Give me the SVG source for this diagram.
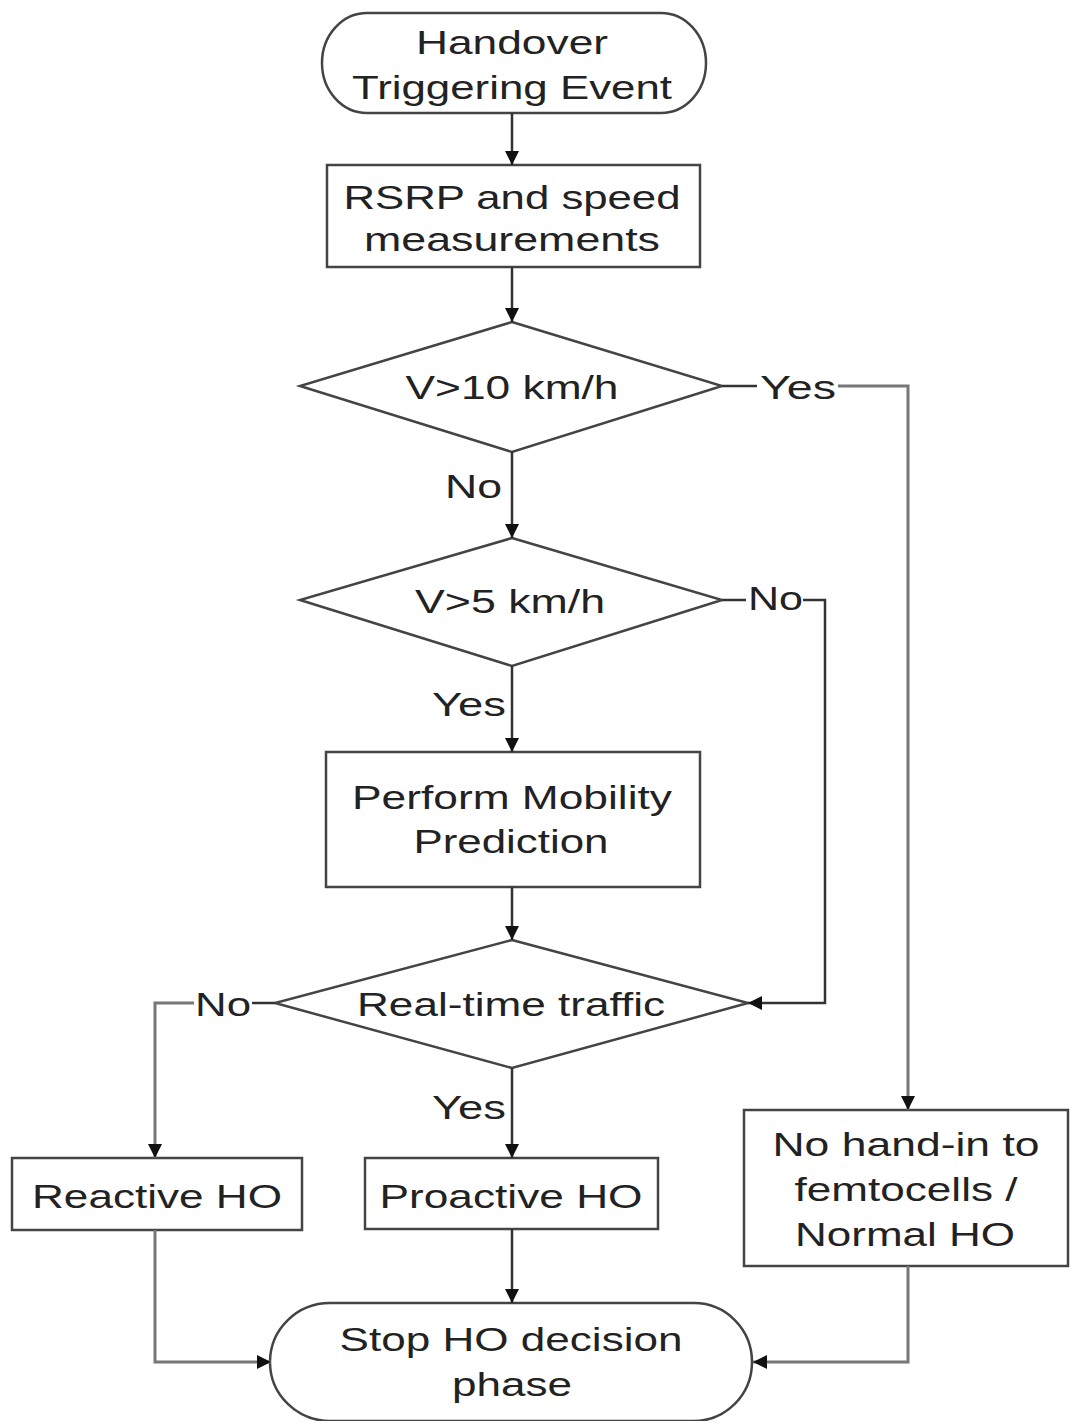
<svg xmlns="http://www.w3.org/2000/svg" width="1070" height="1421" viewBox="0 0 1070 1421">
  <style>
    .shape { fill: #ffffff; stroke: #444444; stroke-width: 2.5; }
    .edge { fill: none; stroke: #333333; stroke-width: 2.5; }
    .edge-light { fill: none; stroke: #777777; stroke-width: 3; }
    .label { font-family: "Liberation Sans", Arial, sans-serif; font-size: 34px; fill: #222222; text-anchor: middle; }
    .elabel { font-family: "Liberation Sans", Arial, sans-serif; font-size: 34px; fill: #222222; }
  </style>
  <defs>
    <marker id="arrowBig" viewBox="0 0 10 10" refX="10" refY="5" markerWidth="14" markerHeight="14" markerUnits="userSpaceOnUse" orient="auto">
      <path d="M0,0 L10,5 L0,10 z" fill="#111111"/>
    </marker>
  </defs>

  <rect width="1070" height="1421" fill="#ffffff"/>

  <g id="start">
    <path class="shape" d="M367,13 L661,13 A45,50 0 0 1 661,113 L367,113 A45,50 0 0 1 367,13 Z"/>
    <text class="label" x="512" y="54" textLength="192" lengthAdjust="spacingAndGlyphs">Handover</text>
    <text class="label" x="512" y="99" textLength="320" lengthAdjust="spacingAndGlyphs">Triggering Event</text>
  </g>

  <g id="measure">
    <rect class="shape" x="327" y="165" width="373" height="102"/>
    <text class="label" x="512" y="209" textLength="337" lengthAdjust="spacingAndGlyphs">RSRP and speed</text>
    <text class="label" x="512" y="251" textLength="296" lengthAdjust="spacingAndGlyphs">measurements</text>
  </g>

  <g id="speed10">
    <polygon class="shape" points="512,322 722,386 512,452 300,386"/>
    <text class="label" x="512" y="399" textLength="213" lengthAdjust="spacingAndGlyphs">V&gt;10 km/h</text>
  </g>

  <g id="speed5">
    <polygon class="shape" points="512,538 722,600 512,666 300,600"/>
    <text class="label" x="510" y="613" textLength="190" lengthAdjust="spacingAndGlyphs">V&gt;5 km/h</text>
  </g>

  <g id="predict">
    <rect class="shape" x="326" y="752" width="374" height="135"/>
    <text class="label" x="512" y="809" textLength="320" lengthAdjust="spacingAndGlyphs">Perform Mobility</text>
    <text class="label" x="511" y="853" textLength="195" lengthAdjust="spacingAndGlyphs">Prediction</text>
  </g>

  <g id="realtime">
    <polygon class="shape" points="512,940 748,1003 512,1068 275,1003"/>
    <text class="label" x="511" y="1016" textLength="308" lengthAdjust="spacingAndGlyphs">Real-time traffic</text>
  </g>

  <g id="reactive">
    <rect class="shape" x="12" y="1158" width="290" height="72"/>
    <text class="label" x="157" y="1208" textLength="250" lengthAdjust="spacingAndGlyphs">Reactive HO</text>
  </g>

  <g id="proactive">
    <rect class="shape" x="365" y="1158" width="293" height="71"/>
    <text class="label" x="511" y="1208" textLength="263" lengthAdjust="spacingAndGlyphs">Proactive HO</text>
  </g>

  <g id="normal">
    <rect class="shape" x="744" y="1110" width="324" height="156"/>
    <text class="label" x="906" y="1156" textLength="267" lengthAdjust="spacingAndGlyphs">No hand-in to</text>
    <text class="label" x="906" y="1201" textLength="223" lengthAdjust="spacingAndGlyphs">femtocells /</text>
    <text class="label" x="905" y="1246" textLength="220" lengthAdjust="spacingAndGlyphs">Normal HO</text>
  </g>

  <g id="stop">
    <path class="shape" d="M330,1303 L694,1303 A58,59 0 0 1 694,1421 L330,1421 A60,59 0 0 1 330,1303 Z"/>
    <text class="label" x="511" y="1351" textLength="343" lengthAdjust="spacingAndGlyphs">Stop HO decision</text>
    <text class="label" x="512" y="1396" textLength="120" lengthAdjust="spacingAndGlyphs">phase</text>
  </g>

  <!-- connectors drawn over the node outlines so the arrowheads stay visible -->
  <g id="connectors">
    <line class="edge" x1="512" y1="113" x2="512" y2="165" marker-end="url(#arrowBig)"/>
    <line class="edge" x1="512" y1="267" x2="512" y2="322" marker-end="url(#arrowBig)"/>
    <line class="edge" x1="512" y1="452" x2="512" y2="538" marker-end="url(#arrowBig)"/>
    <line class="edge" x1="512" y1="666" x2="512" y2="752" marker-end="url(#arrowBig)"/>
    <line class="edge" x1="512" y1="887" x2="512" y2="940" marker-end="url(#arrowBig)"/>
    <line class="edge" x1="512" y1="1068" x2="512" y2="1158" marker-end="url(#arrowBig)"/>
    <line class="edge" x1="512" y1="1229" x2="512" y2="1303" marker-end="url(#arrowBig)"/>
    <!-- V>10 Yes branch -->
    <line class="edge" x1="722" y1="386" x2="757" y2="386"/>
    <polyline class="edge-light" points="838,386 908,386 908,1110" marker-end="url(#arrowBig)"/>
    <!-- V>5 No branch -->
    <line class="edge" x1="722" y1="600" x2="746" y2="600"/>
    <polyline class="edge" points="803,600 825,600 825,1003 748,1003" marker-end="url(#arrowBig)"/>
    <!-- Real-time No branch -->
    <line class="edge" x1="275" y1="1003" x2="252" y2="1003"/>
    <polyline class="edge-light" points="194,1003 155,1003 155,1158" marker-end="url(#arrowBig)"/>
    <!-- into stop -->
    <polyline class="edge-light" points="155,1230 155,1362 271,1362" marker-end="url(#arrowBig)"/>
    <polyline class="edge-light" points="908,1266 908,1362 753,1362" marker-end="url(#arrowBig)"/>
    <text class="elabel" x="760" y="399" textLength="76" lengthAdjust="spacingAndGlyphs">Yes</text>
    <text class="elabel" x="445" y="498" textLength="57" lengthAdjust="spacingAndGlyphs">No</text>
    <text class="elabel" x="748" y="610" textLength="55" lengthAdjust="spacingAndGlyphs">No</text>
    <text class="elabel" x="432" y="716" textLength="74" lengthAdjust="spacingAndGlyphs">Yes</text>
    <text class="elabel" x="195" y="1016" textLength="56" lengthAdjust="spacingAndGlyphs">No</text>
    <text class="elabel" x="432" y="1119" textLength="74" lengthAdjust="spacingAndGlyphs">Yes</text>
  </g>
</svg>
